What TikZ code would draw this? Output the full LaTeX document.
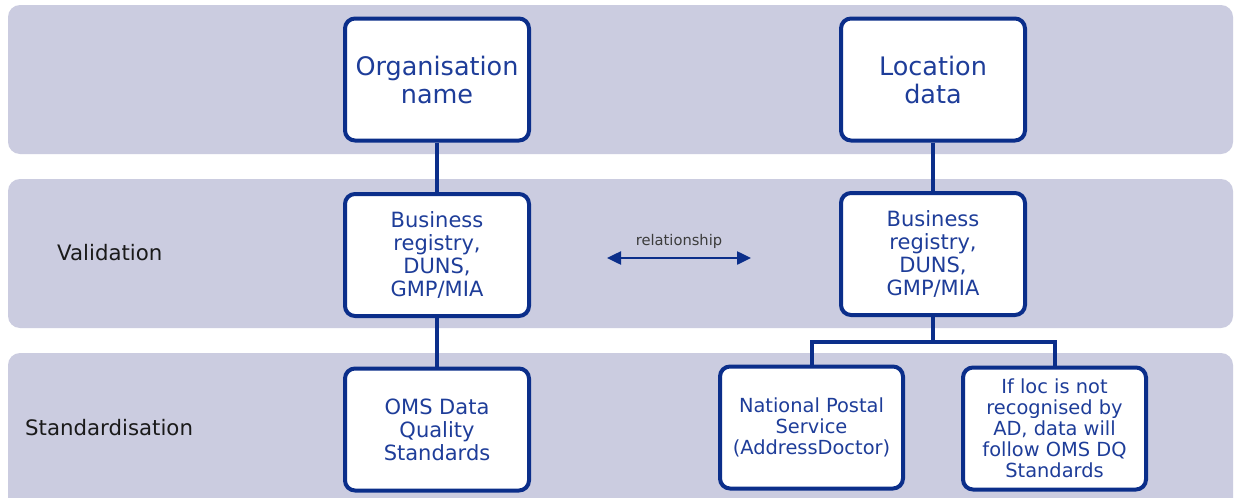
\documentclass[tikz,border=0pt]{standalone}
\usepackage{fontspec}
\setmainfont{DejaVu Sans}
\usetikzlibrary{arrows.meta}
\definecolor{band}{HTML}{CBCCE0}
\definecolor{navy}{HTML}{0B2E8A}
\definecolor{txtblue}{HTML}{1E3D99}
\definecolor{lbl}{HTML}{1A1A1A}
\tikzset{
  bandbox/.style={fill=band, draw=none, rounded corners=12pt},
  card/.style={draw=navy, line width=4pt, fill=white, rounded corners=10pt,
    minimum width=184pt, minimum height=122pt, align=center, text=txtblue, inner sep=0pt},
  bigtxt/.style={font=\fontsize{25.5}{28}\selectfont},
  midtxt/.style={font=\fontsize{21}{23}\selectfont},
  smalltxt/.style={font=\fontsize{19.4}{21}\selectfont},
  conn/.style={draw=navy, line width=4pt},
  rowlabel/.style={text=lbl, font=\fontsize{21.3}{24}\selectfont, anchor=west, inner sep=0pt},
}
\begin{document}
\begin{tikzpicture}[x=1pt, y=-1pt]
\useasboundingbox (0,0) rectangle (1235,498);
\fill[white] (0,0) rectangle (1235,498);
% bands
\path[bandbox] (8,5) rectangle (1233,154);
\path[bandbox] (8,179) rectangle (1233,328);
\path[bandbox] (8,353) rectangle (1233,520);
% row labels
\node[rowlabel] (val) at (57,253) {Validation};
\node[rowlabel] (std) at (25,428) {Standardisation};
% boxes
\node[card, bigtxt] (org) at (437,79.5) {Organisation\\name};
\node[card, bigtxt] (loc) at (933,79.5) {Location\\data};
\node[card, midtxt] (brl) at (437,255) {Business\\registry,\\DUNS,\\GMP/MIA};
\node[card, midtxt] (brr) at (933,254) {Business\\registry,\\DUNS,\\GMP/MIA};
\node[card, midtxt] (oms) at (437,429.5) {OMS Data\\Quality\\Standards};
\node[card, smalltxt, minimum width=183pt] (nps) at (811.5,427.5) {National Postal\\Service\\(AddressDoctor)};
\node[card, smalltxt, minimum width=183pt] (ifl) at (1054.5,428.5) {If loc is not\\recognised by\\AD, data will\\follow OMS DQ\\Standards};
% connectors
\draw[conn] (org.south) -- (brl.north);
\draw[conn] (brl.south) -- (oms.north);
\draw[conn] (loc.south) -- (brr.north);
\coordinate (j) at (933,342);
\draw[conn] (brr.south) -- (j);
\draw[conn, line join=miter] (nps.north) |- (j) -| (ifl.north);
% relationship
\coordinate (ra) at (607,258);
\coordinate (rb) at (751,258);
\draw[draw=navy, line width=2.5pt, {Triangle[length=14pt,width=13pt]}-{Triangle[length=14pt,width=13pt]}] (ra) -- (rb);
\node[text=lbl!85, font=\fontsize{14.7}{16}\selectfont] (rel) at (679,241) {relationship};
\end{tikzpicture}
\end{document}
